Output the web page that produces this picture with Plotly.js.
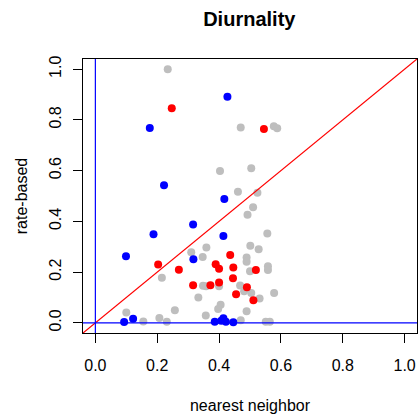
<!DOCTYPE html>
<html>
<head>
<meta charset="utf-8">
<script src="https://cdn.plot.ly/plotly-3.0.1.min.js"></script>
<style>html,body{margin:0;padding:0;background:#fff;}#chart{width:419px;height:418px;}</style>
</head>
<body>
<div id="chart"></div>
<script>
// Gray points (nearest neighbor, rate-based)
const grayX = [0.234,0.470,0.577,0.588,0.403,0.504,0.461,0.524,0.510,0.492,0.556,0.359,0.310,0.501,0.528,0.347,0.489,0.489,0.500,0.558,0.558,0.215,0.348,0.358,0.400,0.468,0.481,0.504,0.531,0.578,0.333,0.405,0.397,0.489,0.257,0.100,0.357,0.207,0.155,0.231,0.470,0.551,0.564];
const grayY = [1.000,0.770,0.775,0.767,0.599,0.609,0.517,0.513,0.456,0.426,0.352,0.297,0.278,0.304,0.290,0.260,0.258,0.241,0.203,0.223,0.208,0.178,0.146,0.144,0.144,0.147,0.125,0.118,0.096,0.118,0.100,0.071,0.055,0.046,0.050,0.041,0.029,0.019,0.005,0.004,0.010,0.004,0.004];
// Red points
const redX = [0.247,0.545,0.436,0.203,0.270,0.389,0.400,0.446,0.519,0.445,0.316,0.372,0.400,0.490,0.455,0.511];
const redY = [0.846,0.764,0.267,0.230,0.209,0.231,0.213,0.218,0.208,0.176,0.148,0.148,0.159,0.140,0.113,0.089];
// Blue points
const blueX = [0.427,0.176,0.222,0.417,0.316,0.188,0.414,0.099,0.317,0.093,0.122,0.386,0.407,0.414,0.422,0.446];
const blueY = [0.891,0.768,0.542,0.488,0.388,0.349,0.342,0.263,0.251,0.003,0.016,0.004,0.008,0.018,0.004,0.002];

const tickVals = [0,0.2,0.4,0.6,0.8,1.0];
const tickText = ["0.0","0.2","0.4","0.6","0.8","1.0"];

const FONT = "Liberation Sans, Arial, Helvetica, sans-serif";

function pts(x, y, color) {
  return {x: x, y: y, type: "scatter", mode: "markers",
    marker: {size: 8, color: color, line: {width: 0}},
    hoverinfo: "skip", showlegend: false, cliponaxis: false};
}

const data = [
  pts(grayX, grayY, "#BEBEBE"),
  pts(redX, redY, "#FF0000"),
  pts(blueX, blueY, "#0000FF")
];

const axisCommon = {
  range: [-0.04, 1.04], autorange: false,
  tickvals: tickVals, ticktext: tickText,
  ticks: "outside", ticklen: 9, tickwidth: 1, tickcolor: "#000",
  showline: true, linecolor: "#000", linewidth: 1, mirror: true,
  showgrid: false, zeroline: false,
  tickfont: {family: FONT, size: 16, color: "#000"},
  automargin: false
};

const layout = {
  width: 419, height: 418,
  margin: {l: 83, r: 2, t: 59, b: 85, pad: 0},
  paper_bgcolor: "#fff", plot_bgcolor: "#fff",
  font: {family: FONT, color: "#000"},
  title: {text: "<b>Diurnality</b>", font: {family: FONT, size: 20, color: "#000"},
    x: 0.595, xanchor: "center", y: 0.955, yanchor: "middle"},
  xaxis: Object.assign({}, axisCommon, {
    title: {text: "nearest neighbor", font: {family: FONT, size: 16, color: "#000"}, standoff: 26},
    ticklabelstandoff: 9
  }),
  yaxis: Object.assign({}, axisCommon, {
    tickangle: -90,
    title: {text: "rate-based", font: {family: FONT, size: 16, color: "#000"}, standoff: 14},
    ticklabelstandoff: 6
  }),
  shapes: [
    {type: "line", xref: "x", yref: "y", x0: -0.04, y0: -0.04, x1: 1.04, y1: 1.04, line: {color: "#FF0000", width: 1.2}},
    {type: "line", xref: "x", yref: "y", x0: -0.04, y0: 0, x1: 1.04, y1: 0, line: {color: "#0000FF", width: 1.2}},
    {type: "line", xref: "x", yref: "y", x0: 0, y0: -0.04, x1: 0, y1: 1.04, line: {color: "#0000FF", width: 1.2}}
  ]
};

Plotly.newPlot("chart", data, layout, {staticPlot: true, displayModeBar: false});
</script>
</body>
</html>
